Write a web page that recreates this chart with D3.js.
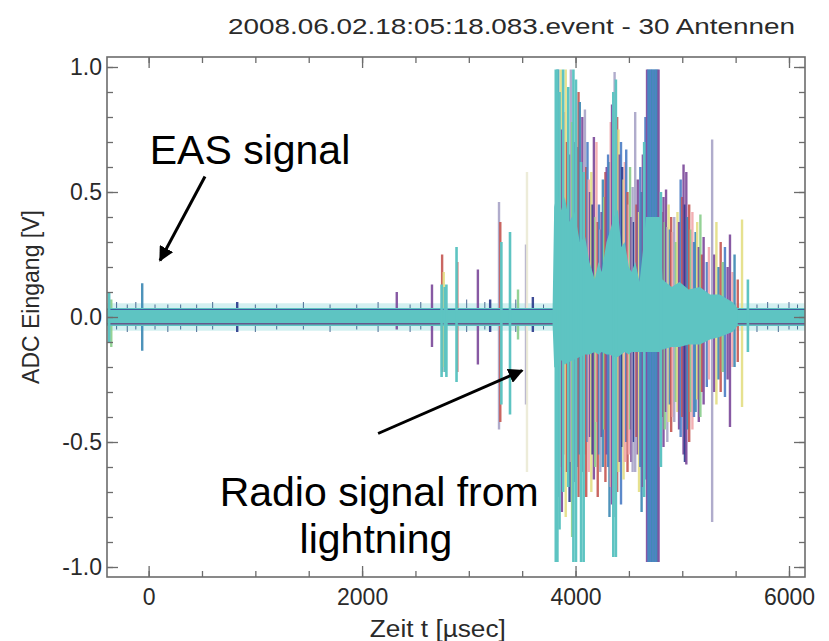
<!DOCTYPE html>
<html>
<head>
<meta charset="utf-8">
<script src="https://cdn.jsdelivr.net/npm/d3@7"></script>
<style>
body { margin: 0; background: #fff; }
text { font-family: "Liberation Sans", Arial, Helvetica, sans-serif; }
</style>
</head>
<body>
<svg id="chart" width="829" height="641"></svg>
<script>
// --- data ------------------------------------------------------------
const title = '2008.06.02.18:05:18.083.event - 30 Antennen'
const xLabel = 'Zeit t [µsec]'
const yLabel = 'ADC Eingang [V]'
const xTicks = [0, 2000, 4000, 6000]
const yTicks = [-1.0, -0.5, 0.0, 0.5, 1.0]

// antenna colour index -> colour
const antennaColors = ['#5ec4c2', '#2e3d8e', '#7d4b9c', '#c65a55', '#f2a9ad', '#e4df86',
	'#8bcf8e', '#4f7fc6', '#aaa6c8', '#ecebd6', '#3f8ab5']

// noise band of the quiet trace [t, hi, lo]
const baseline = [[-390, 0.036, -0.036], [6150, 0.036, -0.036]]
const baselineHalo = [[-390, 0.055, -0.055], [6150, 0.055, -0.055]]

// dense cyan core of the lightning burst [t, hi, lo]
const burstCore = [
	[3785, 0.03, -0.03], [3800, 0.44, -0.20], [3830, 0.50, -0.21], [3860, 0.42, -0.17],
	[3900, 0.48, -0.19], [3940, 0.38, -0.18], [3990, 0.42, -0.17], [4040, 0.30, -0.16],
	[4090, 0.32, -0.15], [4130, 0.22, -0.15], [4180, 0.15, -0.14], [4215, 0.22, -0.15],
	[4245, 0.18, -0.14], [4290, 0.30, -0.15], [4320, 0.34, -0.15], [4360, 0.40, -0.16],
	[4395, 0.43, -0.16], [4430, 0.28, -0.15], [4460, 0.30, -0.14], [4500, 0.20, -0.15],
	[4525, 0.18, -0.14], [4560, 0.22, -0.14], [4600, 0.14, -0.14], [4640, 0.30, -0.14],
	[4660, 0.40, -0.14], [4790, 0.40, -0.14], [4815, 0.15, -0.13], [4900, 0.12, -0.12],
	[4975, 0.14, -0.12], [5060, 0.11, -0.11], [5165, 0.12, -0.11], [5260, 0.09, -0.09],
	[5350, 0.09, -0.08], [5470, 0.06, -0.06], [5520, 0.035, -0.035]
]

// single-antenna spikes [t, top, bottom, antenna colour index]
const spikes = [
	// quiet part and the EAS pulse
	[-370, 0.10, -0.10, 0], [-350, 0.07, -0.12, 6], [-60, 0.135, -0.135, 10], [830, 0.06, -0.06, 1],
	// precursor pulses
	[2325, 0.10, -0.05, 2], [2655, 0.13, -0.12, 2],
	[2750, 0.25, -0.22, 3], [2765, 0.18, -0.20, 5], [2745, 0.13, -0.24, 0], [2775, 0.12, -0.22, 0], [2790, 0.13, -0.24, 0],
	[2892, 0.22, -0.22, 3], [2885, 0.28, -0.26, 0],
	[3085, 0.19, -0.19, 2],
	[3283, 0.46, -0.45, 8], [3295, 0.38, -0.42, 3], [3305, 0.30, -0.35, 0],
	[3386, 0.34, -0.39, 0], [3461, 0.11, -0.09, 6], [3536, 0.29, -0.35, 8],
	[3545, 0.58, -0.62, 9], [3600, 0.08, -0.06, 1], [3200, 0.07, -0.06, 1],
	// burst, first group
	[3825, 0.95, -0.90, 7], [3838, 0.99, -0.72, 10], [3862, 0.99, -0.60, 5], [3872, 0.75, -0.78, 2],
	[3896, 0.82, -0.55, 4], [3908, 0.99, -0.80, 5], [3920, 0.70, -0.62, 3], [3944, 0.65, -0.74, 1],
	[3956, 0.99, -0.58, 8], [3968, 0.78, -0.88, 6], [3992, 0.70, -0.66, 2], [4016, 0.68, -0.60, 7],
	[4028, 0.90, -0.72, 3], [4040, 0.86, -0.55, 10], [4064, 0.80, -0.62, 2],
	// first notch
	[4088, 0.83, -0.55, 8], [4100, 0.60, -0.72, 3], [4112, 0.70, -0.50, 7], [4124, 0.55, -0.62, 4],
	[4136, 0.50, -0.48, 2], [4148, 0.58, -0.70, 5], [4160, 0.45, -0.55, 1], [4172, 0.72, -0.65, 2],
	[4184, 0.40, -0.60, 6], [4196, 0.70, -0.42, 4], [4208, 0.38, -0.72, 3], [4220, 0.45, -0.55, 7],
	[4232, 0.35, -0.62, 8], [4244, 0.42, -0.48, 2], [4256, 0.55, -0.60, 10], [4268, 0.48, -0.45, 6],
	[4280, 0.58, -0.66, 3], [4292, 0.60, -0.55, 2],
	// second peak
	[4305, 0.65, -0.60, 7], [4318, 0.62, -0.80, 10], [4330, 0.78, -0.68, 4], [4342, 0.85, -0.75, 2],
	[4366, 0.98, -0.80, 8], [4390, 0.80, -0.70, 3], [4402, 0.75, -0.62, 5], [4414, 0.65, -0.58, 2],
	[4426, 0.70, -0.75, 7], [4438, 0.60, -0.52, 1], [4450, 0.55, -0.65, 5], [4462, 0.62, -0.58, 4],
	// second notch
	[4475, 0.67, -0.50, 7], [4487, 0.50, -0.62, 3], [4499, 0.45, -0.55, 4], [4511, 0.60, -0.45, 6],
	[4523, 0.40, -0.58, 2], [4535, 0.52, -0.62, 8], [4547, 0.38, -0.50, 1], [4559, 0.82, -0.62, 8],
	[4571, 0.45, -0.48, 3], [4583, 0.55, -0.55, 2], [4595, 0.42, -0.70, 5], [4607, 0.60, -0.60, 7],
	[4619, 0.50, -0.78, 10], [4631, 0.65, -0.68, 2], [4655, 0.80, -0.65, 7],
	// saturated block
	[4670, 0.99, -0.98, 2], [4682, 0.99, -0.98, 7], [4694, 0.99, -0.98, 10], [4706, 0.99, -0.98, 7],
	[4718, 0.99, -0.98, 10], [4730, 0.99, -0.98, 7], [4742, 0.99, -0.98, 10], [4754, 0.99, -0.98, 7],
	[4766, 0.99, -0.98, 10], [4778, 0.99, -0.98, 2],
	// decay
	[4812, 0.42, -0.40, 3], [4824, 0.48, -0.52, 2], [4836, 0.38, -0.45, 6], [4848, 0.51, -0.38, 2],
	[4860, 0.36, -0.50, 8], [4872, 0.45, -0.42, 5], [4884, 0.35, -0.35, 7], [4896, 0.40, -0.46, 3],
	[4910, 0.34, -0.40, 4], [4925, 0.40, -0.42, 8], [4940, 0.30, -0.34, 6], [4955, 0.42, -0.38, 5],
	[4970, 0.38, -0.45, 2], [4985, 0.55, -0.48, 7], [5000, 0.48, -0.40, 3], [5012, 0.61, -0.55, 2],
	[5025, 0.45, -0.58, 1], [5038, 0.58, -0.59, 2], [5050, 0.40, -0.45, 10], [5065, 0.45, -0.50, 3],
	[5080, 0.35, -0.38, 6], [5095, 0.42, -0.45, 4], [5110, 0.30, -0.40, 7], [5125, 0.34, -0.38, 10],
	[5140, 0.38, -0.33, 5], [5155, 0.28, -0.42, 2], [5170, 0.41, -0.40, 6], [5185, 0.25, -0.30, 3],
	[5200, 0.32, -0.35, 2], [5230, 0.22, -0.28, 7], [5250, 0.28, -0.25, 4], [5280, 0.71, -0.82, 8],
	[5300, 0.25, -0.30, 2], [5320, 0.38, -0.35, 5], [5340, 0.20, -0.25, 10], [5360, 0.30, -0.30, 3],
	[5380, 0.22, -0.22, 6], [5400, 0.28, -0.32, 7], [5425, 0.20, -0.25, 2], [5447, 0.33, -0.44, 2],
	[5470, 0.18, -0.20, 4], [5490, 0.25, -0.20, 10], [5520, 0.15, -0.18, 3], [5560, 0.39, -0.36, 5],
	// antenna 0 (cyan) lines, drawn on top
	[3815, 0.99, -0.98, 0], [3830, 0.99, -0.98, 0], [3850, 0.90, -0.85, 0], [3884, 0.99, -0.70, 0],
	[3932, 0.92, -0.68, 0], [3980, 0.99, -0.98, 0], [4004, 0.95, -0.98, 0], [4052, 0.62, -0.98, 0],
	[4076, 0.58, -0.98, 0], [4354, 0.90, -0.96, 0], [4378, 0.95, -0.96, 0], [4643, 0.70, -0.72, 0],
	[4800, 0.50, -0.60, 0], [5615, 0.15, -0.14, 0]
]

// small ripples on the quiet trace [t, top, bottom]
const noiseTicks = [
	[-300, 0.06, -0.05], [-200, 0.05, -0.06], [-120, 0.06, -0.05], [60, 0.05, -0.05],
	[180, 0.05, -0.06], [300, 0.05, -0.05], [450, 0.05, -0.06], [600, 0.06, -0.05],
	[1000, 0.05, -0.06], [1200, 0.05, -0.05], [1450, 0.06, -0.05], [1700, 0.05, -0.06],
	[1950, 0.05, -0.05], [2150, 0.06, -0.06], [2450, 0.05, -0.06], [2550, 0.06, -0.05],
	[2980, 0.07, -0.06], [3150, 0.06, -0.05], [3440, 0.07, -0.06], [3700, 0.05, -0.05],
	[5700, 0.05, -0.06], [5800, 0.06, -0.05], [5900, 0.05, -0.06], [6000, 0.06, -0.05],
	[6080, 0.05, -0.05]
]

// annotations [label, t, v]
const annotations = [['EAS signal', 950, 0.614], ['Radio signal from', 2160, -0.754], ['lightning', 2130, -0.942]]
const arrows = [[528, 0.562, 107, 0.226], [2150, -0.466, 3500, -0.214]]

// --- drawing ----------------------------------------------------------
const W = 829, H = 641
const m = { left: 107, right: 24, top: 57, bottom: 64 }
const svg = d3.select('#chart')

const x = d3.scaleLinear().domain([-390, 6150]).range([m.left, W - m.right])
const y = d3.scaleLinear().domain([-1.04, 1.04]).range([H - m.bottom, m.top])
const color = i => antennaColors[i]

svg.append('defs').append('clipPath').attr('id', 'clip')
	.append('rect')
	.attr('x', m.left).attr('y', m.top)
	.attr('width', W - m.left - m.right).attr('height', H - m.top - m.bottom)

svg.select('defs').append('marker')
	.attr('id', 'head').attr('viewBox', '0 0 10 10')
	.attr('refX', 9).attr('refY', 5)
	.attr('markerWidth', 5).attr('markerHeight', 5)
	.attr('orient', 'auto')
	.append('path').attr('d', 'M0,0L10,5L0,10z').attr('fill', '#000')

const plot = svg.append('g').attr('clip-path', 'url(#clip)')
const band = d3.area().x(d => x(d[0])).y0(d => y(d[2])).y1(d => y(d[1]))
const vline = sel => sel
	.attr('x1', d => x(d[0])).attr('x2', d => x(d[0]))
	.attr('y1', d => y(d[1])).attr('y2', d => y(d[2]))

plot.append('path').datum(baselineHalo).attr('d', band).attr('fill', '#d3f0f1')

plot.append('g').selectAll('line')
	.data(spikes.filter(d => d[3] !== 0))
	.join('line')
	.call(vline)
	.attr('stroke', d => color(d[3]))
	.attr('stroke-width', 2.4)
	.attr('opacity', 0.92)

plot.append('g').selectAll('line')
	.data(noiseTicks)
	.join('line')
	.call(vline)
	.attr('stroke', '#4a6b94').attr('stroke-width', 1)

plot.append('path').datum(baseline).attr('d', band).attr('fill', antennaColors[0])

plot.append('line')
	.attr('x1', x(-390)).attr('x2', x(6150))
	.attr('y1', y(0.03)).attr('y2', y(0.03))
	.attr('stroke', '#2e3d8e').attr('stroke-width', 1.2).attr('opacity', 0.75)
plot.append('line')
	.attr('x1', x(-390)).attr('x2', x(6150))
	.attr('y1', y(-0.027)).attr('y2', y(-0.027))
	.attr('stroke', '#6a3c7e').attr('stroke-width', 1.6).attr('opacity', 0.8)

plot.append('path').datum(burstCore).attr('d', band).attr('fill', antennaColors[0])

plot.append('g').selectAll('line')
	.data(spikes.filter(d => d[3] === 0))
	.join('line')
	.call(vline)
	.attr('stroke', antennaColors[0])
	.attr('stroke-width', 2.6)

// axes, IDL style: inward ticks on all four sides
const axisColor = '#6c6c6c'
const pw = W - m.left - m.right, ph = H - m.top - m.bottom
const minorX = d3.range(0, 6001, 500)
const minorY = d3.range(-10, 11).map(d => d / 10)
const fmtY = d => d.toFixed(1)

function styleAxis(g) {
	g.select('.domain').remove()
	g.selectAll('line').attr('stroke', axisColor).attr('stroke-width', 1.3)
	g.selectAll('text').attr('fill', '#2a2a2a').style('font-size', '23px')
}

svg.append('g').attr('transform', `translate(0,${H - m.bottom})`)
	.call(d3.axisBottom(x).tickValues(minorX).tickSize(-6).tickFormat('')).call(styleAxis)
svg.append('g').attr('transform', `translate(0,${H - m.bottom})`)
	.call(d3.axisBottom(x).tickValues(xTicks).tickSize(-11).tickPadding(12).tickFormat(d3.format('d')))
	.call(styleAxis)
svg.append('g').attr('transform', `translate(0,${m.top})`)
	.call(d3.axisTop(x).tickValues(minorX).tickSize(-6).tickFormat('')).call(styleAxis)
svg.append('g').attr('transform', `translate(0,${m.top})`)
	.call(d3.axisTop(x).tickValues(xTicks).tickSize(-11).tickFormat('')).call(styleAxis)

svg.append('g').attr('transform', `translate(${m.left},0)`)
	.call(d3.axisLeft(y).tickValues(minorY).tickSize(-6).tickFormat('')).call(styleAxis)
svg.append('g').attr('transform', `translate(${m.left},0)`)
	.call(d3.axisLeft(y).tickValues(yTicks).tickSize(-11).tickPadding(5).tickFormat(fmtY))
	.call(styleAxis)
svg.append('g').attr('transform', `translate(${W - m.right},0)`)
	.call(d3.axisRight(y).tickValues(minorY).tickSize(-6).tickFormat('')).call(styleAxis)
svg.append('g').attr('transform', `translate(${W - m.right},0)`)
	.call(d3.axisRight(y).tickValues(yTicks).tickSize(-11).tickFormat('')).call(styleAxis)

svg.append('rect')
	.attr('x', m.left).attr('y', m.top).attr('width', pw).attr('height', ph)
	.attr('fill', 'none').attr('stroke', axisColor).attr('stroke-width', 1.6)

// titles
svg.append('text')
	.attr('x', 795).attr('y', 34)
	.attr('text-anchor', 'end')
	.attr('textLength', 567).attr('lengthAdjust', 'spacingAndGlyphs')
	.style('font-size', '22px').attr('fill', '#2a2a2a')
	.text(title)

svg.append('text')
	.attr('x', x(2710)).attr('y', 637)
	.attr('text-anchor', 'middle')
	.attr('textLength', 136).attr('lengthAdjust', 'spacingAndGlyphs')
	.style('font-size', '23px').attr('fill', '#2a2a2a')
	.text(xLabel)

svg.append('text')
	.attr('transform', `translate(39,${y(0.08)}) rotate(-90)`)
	.attr('text-anchor', 'middle')
	.style('font-size', '23px').attr('fill', '#2a2a2a')
	.text(yLabel)

// annotations
svg.append('g').selectAll('text')
	.data(annotations)
	.join('text')
	.attr('x', d => x(d[1])).attr('y', d => y(d[2]))
	.attr('text-anchor', 'middle')
	.style('font-size', '41px').attr('fill', '#000')
	.text(d => d[0])

svg.append('g').selectAll('line')
	.data(arrows)
	.join('line')
	.attr('x1', d => x(d[0])).attr('y1', d => y(d[1]))
	.attr('x2', d => x(d[2])).attr('y2', d => y(d[3]))
	.attr('stroke', '#000').attr('stroke-width', 3)
	.attr('marker-end', 'url(#head)')
</script>
</body>
</html>
